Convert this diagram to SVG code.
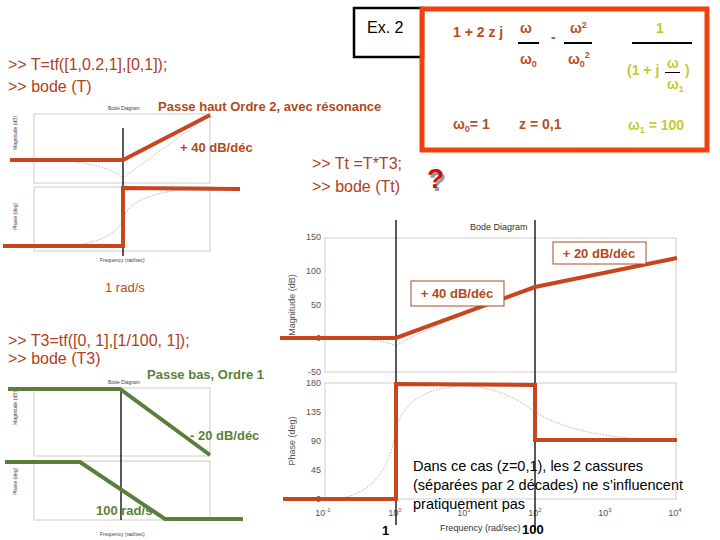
<svg xmlns="http://www.w3.org/2000/svg" width="720" height="540" viewBox="0 0 720 540">
<style>
.cmd{font-family:"Liberation Sans",Arial,sans-serif;font-size:16px;fill:#b04020}
.lbl{font-family:"Liberation Sans",Arial,sans-serif;font-size:13px;font-weight:bold;fill:#b04a20}
.grn{font-family:"Liberation Sans",Arial,sans-serif;font-size:13px;font-weight:bold;fill:#5b7f3b}
.f{font-family:"Liberation Sans",Arial,sans-serif;font-size:14px;font-weight:bold;fill:#b5501e}
.y{font-family:"Liberation Sans",Arial,sans-serif;font-size:14px;font-weight:bold;fill:#c8c832}
.tiny{font-family:"Liberation Sans",Arial,sans-serif;font-size:5px;fill:#444}
.ax{font-family:"Liberation Sans",Arial,sans-serif;font-size:9px;fill:#555}
.axs{font-family:"Liberation Sans",Arial,sans-serif;font-size:9px;fill:#333}
.box{fill:none;stroke:#ccc;stroke-width:1}
.red{fill:none;stroke:#c8461e;stroke-width:4;stroke-linejoin:miter}
.gl{fill:none;stroke:#5b7f3b;stroke-width:4}
.vl{stroke:#000;stroke-width:1.3}
.dot{fill:none;stroke:#999;stroke-width:0.8;stroke-dasharray:1.5 1.5}
</style>
<rect width="720" height="540" fill="#fff"/>
<g id="ex2"><rect x="354" y="8" width="69" height="49" fill="none" stroke="#000" stroke-width="2.5"/><text x="367" y="33" font-family="Liberation Sans,Arial,sans-serif" font-size="16">Ex. 2</text></g>
<g id="formula">
<rect x="422" y="9" width="285" height="141" fill="none" stroke="#f04010" stroke-width="5"/>
<text class="f" x="453" y="37">1 + 2 z j</text>
<text class="f" x="520" y="33">ω</text><rect x="518" y="42" width="21" height="2" fill="#000"/><text class="f" x="520" y="64">ω<tspan font-size="9" dy="3">0</tspan></text>
<text class="f" x="551" y="42">-</text>
<text class="f" x="570" y="33">ω<tspan font-size="9" dy="-5">2</tspan></text><rect x="564" y="42" width="28" height="2" fill="#000"/><text class="f" x="568" y="64">ω<tspan font-size="9" dy="3">0</tspan><tspan font-size="9" dy="-9">2</tspan></text>
<text class="y" x="656" y="33">1</text><rect x="632" y="42" width="60" height="2" fill="#000"/>
<text class="y" x="627" y="75">(1 + j</text><text class="y" x="667" y="68">ω</text><rect x="665" y="72" width="15" height="1" fill="#000"/><text class="y" x="685" y="75">)</text><text class="y" x="667" y="89">ω<tspan font-size="9" dy="3">1</tspan></text>
<text class="f" x="453" y="129">ω<tspan font-size="9" dy="3">0</tspan><tspan dy="-3">= 1</tspan></text>
<text class="f" x="519" y="129">z = 0,1</text>
<text class="y" x="628" y="130">ω<tspan font-size="9" dy="3">1</tspan><tspan dy="-3"> = 100</tspan></text>
</g>
<text class="cmd" x="8" y="70">&gt;&gt; T=tf([1,0.2,1],[0,1]);</text>
<text class="cmd" x="8" y="92">&gt;&gt; bode (T)</text>
<text class="lbl" x="158" y="111">Passe haut Ordre 2, avec résonance</text>
<g id="plotT">
<text class="tiny" x="108" y="110">Bode Diagram</text>
<rect class="box" x="34" y="114" width="176" height="69"/><rect class="box" x="34" y="187" width="176" height="64"/>
<text class="tiny" x="17" y="150" transform="rotate(-90 17 150)">Magnitude (dB)</text>
<text class="tiny" x="17" y="230" transform="rotate(-90 17 230)">Phase (deg)</text>
<text class="tiny" x="100" y="262">Frequency (rad/sec)</text>
<path class="dot" d="M60,160 Q110,165 123,178 Q140,165 210,115"/>
<path class="dot" d="M60,246 Q110,245 123,220 Q130,190 210,188"/>
<line class="vl" x1="123" y1="128" x2="123" y2="256"/>
<path class="red" d="M10,160 L123,160 L210,115"/>
<path class="red" d="M3,246 L123,246 L123,188 L240,189"/>
</g>
<text class="lbl" x="180" y="152">+ 40 dB/déc</text>
<text class="cmd" x="312" y="169">&gt;&gt; Tt =T*T3;</text>
<text class="cmd" x="312" y="192">&gt;&gt; bode (Tt)</text>
<g id="qmark"><text x="429" y="191" font-family="Liberation Sans,Arial,sans-serif" font-size="28" font-weight="bold" fill="#999">?</text><text x="427" y="188" font-family="Liberation Sans,Arial,sans-serif" font-size="28" font-weight="bold" fill="#d01010">?</text></g>
<text x="105" y="292" font-family="Liberation Sans,Arial,sans-serif" font-size="13" fill="#b04a20">1 rad/s</text>
<g id="plotTt">
<text class="axs" x="470" y="230">Bode Diagram</text>
<rect class="box" x="325" y="238" width="351" height="134"/><rect class="box" x="325" y="383" width="351" height="116"/>
<g class="ax" text-anchor="end"><text x="321" y="240">150</text><text x="321" y="274">100</text><text x="321" y="308">50</text><text x="321" y="341">0</text><text x="321" y="375">-50</text>
<text x="321" y="386">180</text><text x="321" y="415">135</text><text x="321" y="444">90</text><text x="321" y="473">45</text><text x="321" y="502">0</text></g>
<g class="ax" text-anchor="middle"><text x="323" y="516">10<tspan font-size="6" dy="-4">-1</tspan></text><text x="395" y="516">10<tspan font-size="6" dy="-4">0</tspan></text><text x="464" y="516">10<tspan font-size="6" dy="-4">1</tspan></text><text x="535" y="516">10<tspan font-size="6" dy="-4">2</tspan></text><text x="605" y="516">10<tspan font-size="6" dy="-4">3</tspan></text><text x="675" y="516">10<tspan font-size="6" dy="-4">4</tspan></text></g>
<text class="ax" x="295" y="305" text-anchor="middle" transform="rotate(-90 295 305)">Magnitude (dB)</text>
<text class="ax" x="295" y="441" text-anchor="middle" transform="rotate(-90 295 441)">Phase (deg)</text>
<text class="axs" x="440" y="531">Frequency (rad/sec)</text>
<path class="dot" d="M350,338 Q385,340 396,346 Q420,330 535,287 L677,258"/>
<path class="dot" d="M330,499 Q385,498 396,430 Q405,390 460,386 Q500,385 535,412 Q580,440 677,440"/>
<line class="vl" x1="396" y1="220" x2="396" y2="525"/>
<line class="vl" x1="535" y1="220" x2="535" y2="530"/>
<path class="red" d="M280,338 L396,338 L535,287 L677,258"/>
<path class="red" d="M283,499 L396,499 L396,384 L535,385 L535,440 L677,440"/>
<rect x="553" y="242" width="93" height="22" fill="#fff" stroke="#b04a20" stroke-width="1"/><text class="lbl" x="599" y="258" text-anchor="middle">+ 20 dB/déc</text>
<rect x="411" y="281" width="93" height="25" fill="#fff" stroke="#b04a20" stroke-width="1"/><text class="lbl" x="457" y="298" text-anchor="middle">+ 40 dB/déc</text>
<text x="382" y="535" font-family="Liberation Sans,Arial,sans-serif" font-size="13" font-weight="bold">1</text>
<text x="522" y="534" font-family="Liberation Sans,Arial,sans-serif" font-size="13" font-weight="bold">100</text>
</g>
<g font-family="Liberation Sans,Arial,sans-serif" font-size="14.5" fill="#000">
<text x="413" y="471">Dans ce cas (z=0,1), les 2 cassures</text>
<text x="413" y="490">(séparées par 2 décades) ne s’influencent</text>
<text x="413" y="509">pratiquement pas</text></g>
<text class="cmd" x="8" y="346">&gt;&gt; T3=tf([0, 1],[1/100, 1]);</text>
<text class="cmd" x="8" y="364">&gt;&gt; bode (T3)</text>
<text class="grn" x="147" y="379">Passe bas, Ordre 1</text>
<g id="plotT3">
<text class="tiny" x="108" y="384">Bode Diagram</text>
<rect class="box" x="34" y="388" width="176" height="68"/><rect class="box" x="34" y="461" width="176" height="59"/>
<text class="tiny" x="17" y="425" transform="rotate(-90 17 425)">Magnitude (dB)</text>
<text class="tiny" x="17" y="495" transform="rotate(-90 17 495)">Phase (deg)</text>
<text class="tiny" x="100" y="536">Frequency (rad/sec)</text>
<line class="vl" x1="121" y1="388" x2="121" y2="520"/>
<path class="gl" d="M8,389 L120,389 L210,455"/>
<path class="gl" d="M5,462 L80,462 L165,519 L243,519"/>
</g>
<text class="grn" x="190" y="440">- 20 dB/déc</text>
<text class="grn" x="96" y="515">100 rad/s</text>
</svg>
